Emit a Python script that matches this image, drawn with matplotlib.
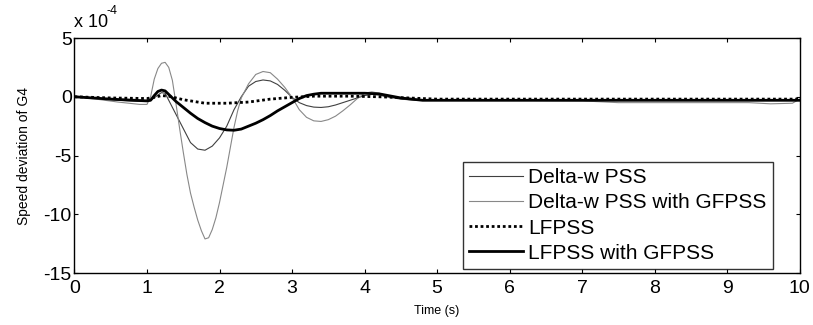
import matplotlib
matplotlib.use("Agg")
import matplotlib.pyplot as plt

plt.rcParams['font.family'] = ['Liberation Sans', 'DejaVu Sans']
plt.rcParams['axes.unicode_minus'] = False

# speed deviation of G4, units of 1e-4
t_dw = [0, 0.3, 0.6, 0.9, 1.0, 1.05, 1.1, 1.15, 1.2, 1.25, 1.3, 1.4, 1.5, 1.6, 1.7, 1.8,
        1.9, 2.0, 2.1, 2.2, 2.3, 2.4, 2.5, 2.6, 2.7, 2.8, 2.9, 3.0, 3.1, 3.2, 3.3, 3.4,
        3.5, 3.6, 3.7, 3.8, 3.9, 4.0, 4.1, 4.2, 4.3, 4.5, 4.7, 5.0, 6, 7, 8, 9, 10]
dw_pss = [0, -0.15, -0.3, -0.4, -0.4, -0.3, -0.1, 0.15, 0.35, 0.3, -0.3, -1.5, -2.7, -3.9,
          -4.45, -4.55, -4.2, -3.5, -2.5, -1.1, 0.0, 0.9, 1.3, 1.43, 1.35, 1.05, 0.55, -0.05,
          -0.5, -0.75, -0.88, -0.91, -0.85, -0.7, -0.5, -0.3, -0.1, 0.1, 0.2, 0.15, 0.0,
          -0.2, -0.3, -0.3, -0.3, -0.3, -0.3, -0.3, -0.3]

t_dwg = [0, 0.3, 0.6, 0.9, 1.0, 1.05, 1.1, 1.15, 1.2, 1.25, 1.3, 1.35, 1.4, 1.45, 1.5, 1.55,
         1.6, 1.65, 1.7, 1.75, 1.8, 1.85, 1.9, 1.95, 2.0, 2.05, 2.1, 2.15, 2.2, 2.25, 2.3,
         2.4, 2.5, 2.6, 2.7, 2.8, 2.9, 3.0, 3.1, 3.2, 3.3, 3.4, 3.5, 3.6, 3.7, 3.8, 3.9,
         4.0, 4.1, 4.2, 4.35, 4.6, 5.0, 6.0, 7.0, 7.5, 9.3, 9.6, 9.9, 10]
dw_pss_gf = [0, -0.2, -0.45, -0.65, -0.65, 0.0, 1.5, 2.4, 2.85, 2.93, 2.5, 1.4, -0.6, -2.7,
             -4.7, -6.6, -8.2, -9.4, -10.5, -11.4, -12.1, -12.0, -11.3, -10.3, -9.0, -7.5,
             -6.0, -4.3, -2.6, -1.2, -0.1, 1.1, 1.9, 2.15, 2.05, 1.5, 0.8, -0.05, -1.1,
             -1.75, -2.05, -2.1, -1.95, -1.65, -1.2, -0.7, -0.15, 0.3, 0.42, 0.3, 0.0, -0.2,
             -0.3, -0.3, -0.35, -0.5, -0.5, -0.6, -0.55, -0.2]

t_lf = [0, 0.5, 1.0, 1.1, 1.2, 1.3, 1.5, 1.8, 2.1, 2.4, 2.7, 3.0, 3.3, 3.8, 4.2, 5.0, 10]
lfpss = [0, -0.1, -0.15, -0.05, 0.1, 0.05, -0.25, -0.55, -0.55, -0.45, -0.2, -0.05, 0.05,
         0.05, 0.0, -0.2, -0.2]

t_lfg = [0, 0.5, 1.0, 1.05, 1.1, 1.15, 1.2, 1.25, 1.3, 1.4, 1.5, 1.6, 1.7, 1.8, 1.9, 2.0,
         2.1, 2.2, 2.3, 2.4, 2.5, 2.6, 2.7, 2.8, 2.9, 3.0, 3.1, 3.2, 3.3, 3.4, 4.0, 4.2,
         4.5, 4.8, 10]
lfpss_gf = [0, -0.2, -0.35, -0.3, 0.1, 0.45, 0.57, 0.5, 0.2, -0.4, -0.9, -1.4, -1.85, -2.2,
            -2.5, -2.7, -2.82, -2.85, -2.75, -2.5, -2.25, -1.95, -1.6, -1.2, -0.85, -0.5,
            -0.15, 0.1, 0.22, 0.3, 0.3, 0.25, -0.1, -0.3, -0.3]

fig = plt.figure(figsize=(8.13, 3.25), dpi=100)
ax = fig.add_axes([0.0916, 0.16, 0.892, 0.723])

ax.plot(t_dw, dw_pss, color='#404040', lw=0.8, label='Delta-w PSS')
ax.plot(t_dwg, dw_pss_gf, color='#888888', lw=0.8, label='Delta-w PSS with GFPSS')
ax.plot(t_lf, lfpss, color='black', lw=2, ls=(0, (1, 1)), label='LFPSS')
ax.plot(t_lfg, lfpss_gf, color='black', lw=2, label='LFPSS with GFPSS')

ax.set_xlim(0, 10)
ax.set_ylim(-15, 5)
ax.set_xticks(range(0, 11))
ax.set_yticks([-15, -10, -5, 0, 5])
ax.tick_params(direction='in', top=True, right=True, length=3, labelsize=14)
ax.tick_params(axis='x', pad=5)
ax.tick_params(axis='y', pad=2)
for s in ax.spines.values():
    s.set_linewidth(1)

# exponent label, MATLAB style
ax.text(0.0, 1.03, 'x 10', transform=ax.transAxes, fontsize=13, ha='left', va='bottom')
ax.text(0.044, 1.09, '-4', transform=ax.transAxes, fontsize=9, ha='left', va='bottom')
ax.set_xlabel('Time (s)', fontsize=9, labelpad=6)
ax.set_ylabel('Speed deviation of G4', fontsize=10, labelpad=9)

leg = ax.legend(loc='lower right', bbox_to_anchor=(0.963, 0.017), fontsize=15, frameon=True,
                fancybox=False, edgecolor='black', handlelength=2.6, handletextpad=0.25,
                borderpad=0.3, labelspacing=0.3, borderaxespad=0)
leg.get_frame().set_linewidth(1)

fig.savefig('out.png', dpi=100)
